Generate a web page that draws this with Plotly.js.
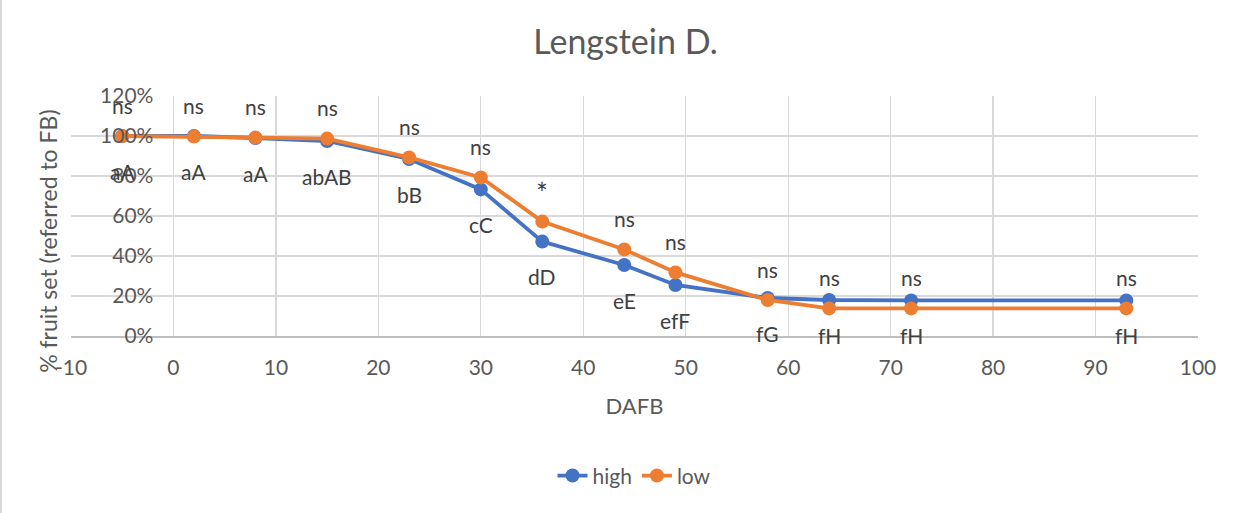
<!DOCTYPE html>
<html>
<head>
<meta charset="utf-8">
<script src="https://cdn.plot.ly/plotly-3.0.1.min.js"></script>
<style>
  html, body { margin: 0; padding: 0; background: #ffffff; }
  #chart { width: 1247px; height: 513px; box-sizing: border-box; border-left: 2px solid #d9d9d9; }
</style>
</head>
<body>
<div id="chart"></div>
<script>
// Days after full bloom (DAFB)
const dafb = [-5, 2, 8, 15, 23, 30, 36, 44, 49, 58, 64, 72, 93];

// Fruit set relative to full bloom, as fractions
const highSet = [1.00, 1.00, 0.99, 0.975, 0.885, 0.733, 0.472, 0.355, 0.255, 0.19, 0.18, 0.178, 0.178];
const lowSet  = [1.00, 0.997, 0.992, 0.987, 0.893, 0.793, 0.572, 0.433, 0.318, 0.18, 0.138, 0.138, 0.138];

// Significance between treatments (above) and letter groups (below)
const sigLabels    = ['ns', 'ns', 'ns', 'ns', 'ns', 'ns', '*', 'ns', 'ns', 'ns', 'ns', 'ns', 'ns'];
const letterLabels = ['aA', 'aA', 'aA', 'abAB', 'bB', 'cC', 'dD', 'eE', 'efF', 'fG', 'fH', 'fH', 'fH'];

// Axis ticks
const xTickVals   = [-10, 0, 10, 20, 30, 40, 50, 60, 70, 80, 90, 100];
const xTickLabels = ['-10', '0', '10', '20', '30', '40', '50', '60', '70', '80', '90', '100'];
const yTicks = [0, 0.2, 0.4, 0.6, 0.8, 1.0, 1.2];

const FONT = 'Lato, "Open Sans", sans-serif';
const TEXT = '#595959';
const LABEL = '#404040';
const BLUE = '#4472C4';
const ORANGE = '#ED7D31';

const traces = [
  {
    name: 'high', x: dafb, y: highSet, type: 'scatter', mode: 'lines+markers',
    line: { color: BLUE, width: 3.8 },
    marker: { color: BLUE, size: 14 },
    cliponaxis: false
  },
  {
    name: 'low', x: dafb, y: lowSet, type: 'scatter', mode: 'lines+markers',
    line: { color: ORANGE, width: 3.8 },
    marker: { color: ORANGE, size: 14 },
    cliponaxis: false
  }
];

const annotations = [];
dafb.forEach((d, i) => {
  const star = sigLabels[i] === '*';
  annotations.push({
    x: d, y: lowSet[i], xref: 'x', yref: 'y', text: sigLabels[i],
    showarrow: false, yanchor: 'middle', yshift: star ? 29 : 31,
    font: { family: FONT, size: star ? 28 : 21, color: LABEL }
  });
  annotations.push({
    x: d, y: highSet[i], xref: 'x', yref: 'y', text: letterLabels[i],
    showarrow: false, yanchor: 'middle', yshift: -35,
    font: { family: FONT, size: 21, color: LABEL }
  });
});

// Vertical axis title
annotations.push({
  xref: 'paper', yref: 'paper', x: -0.0205, y: 0.396,
  text: '% fruit set (referred to FB)', textangle: -90,
  showarrow: false, xanchor: 'center', yanchor: 'middle',
  font: { family: FONT, size: 23, color: TEXT }
});

const layout = {
  width: 1247, height: 513,
  paper_bgcolor: '#ffffff', plot_bgcolor: '#ffffff',
  margin: { l: 69, r: 51, t: 96, b: 177 },
  font: { family: FONT, size: 21, color: TEXT },
  title: {
    text: 'Lengstein D.', x: 0.5, xanchor: 'center',
    y: 1 - 42 / 513, yref: 'container', yanchor: 'middle',
    font: { family: FONT, size: 34, color: TEXT }
  },
  xaxis: {
    range: [-10, 100], tickvals: xTickVals, ticktext: xTickLabels,
    showgrid: true, gridcolor: '#d9d9d9', gridwidth: 1.2,
    zeroline: false, showline: true, linecolor: '#bfbfbf', linewidth: 1.5,
    ticks: '', ticklabelstandoff: 12,
    tickfont: { family: FONT, size: 21, color: TEXT },
    title: { text: 'DAFB', standoff: 21, font: { family: FONT, size: 22, color: TEXT } },
    fixedrange: true
  },
  yaxis: {
    range: [0, 1.2], tickvals: yTicks, tickformat: '.0%',
    anchor: 'free', position: 10 / 110,
    showgrid: true, gridcolor: '#d9d9d9', gridwidth: 1.2,
    zeroline: false, showline: false, ticks: '',
    ticklabelstandoff: 20,
    tickfont: { family: FONT, size: 21, color: TEXT },
    fixedrange: true
  },
  showlegend: true,
  legend: {
    orientation: 'h', x: 0.5, xanchor: 'center', y: -0.583, yanchor: 'middle',
    font: { family: FONT, size: 21, color: TEXT },
    traceorder: 'normal'
  },
  annotations: annotations
};

Plotly.newPlot('chart', traces, layout, { staticPlot: true, displayModeBar: false });
</script>
</body>
</html>
